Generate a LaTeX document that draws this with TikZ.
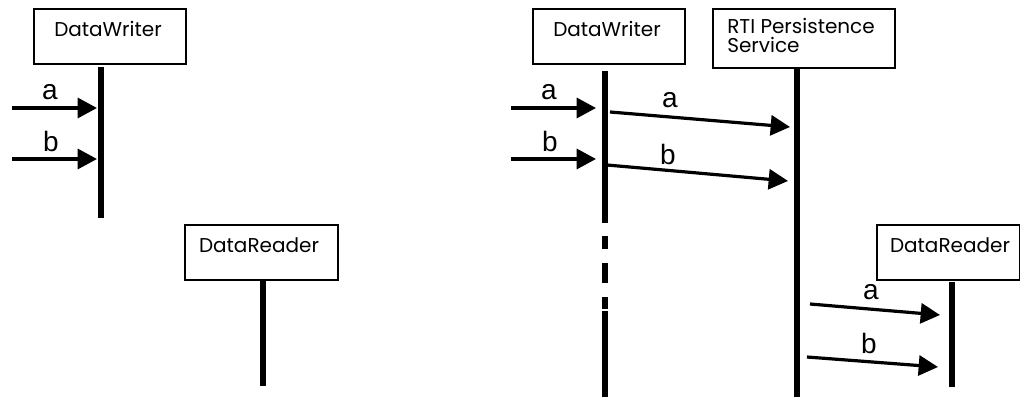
\documentclass[tikz,border=0pt]{standalone}
\usepackage{fontspec}
\setmainfont{Liberation Sans}
\newfontfamily\boxfont{Poppins}
\usetikzlibrary{arrows.meta}
\begin{document}
\begin{tikzpicture}[x=0.75pt,y=-0.75pt,
  objbox/.style={draw,line width=1.5pt,inner sep=0pt,anchor=north west},
  boxtext/.style={font=\boxfont\fontsize{15}{15}\selectfont,inner sep=0pt},
  lbl/.style={font=\fontsize{21}{24}\selectfont,inner sep=0pt},
  life/.style={line width=3.8pt},
  msg/.style={line width=2.4pt,-{Triangle[length=14.5pt,width=15pt]}}]
\useasboundingbox (0,0) rectangle (1020,398);
% ---- left panel ----
\node[objbox,minimum width=152*0.75pt,minimum height=55*0.75pt] (dwA) at (33,8) {};
\node[boxtext] (dwAt) at (108,29) {DataWriter};
\coordinate (dwAtop) at (101,67);
\coordinate (dwAbot) at (101,218);
\draw[life] (dwAtop) -- (dwAbot);
\coordinate (inAa) at (12,108); \coordinate (endAa) at (97,108);
\coordinate (inAb) at (12,159); \coordinate (endAb) at (97,159);
\draw[msg] (inAa) -- (endAa);
\draw[msg] (inAb) -- (endAb);
\node[lbl] (lAa) at (50,92) {a};
\node[lbl] (lAb) at (51,141) {b};
\node[objbox,minimum width=153*0.75pt,minimum height=55*0.75pt] (drA) at (184,224) {};
\node[boxtext] (drAt) at (259,245) {DataReader};
\coordinate (drAtop) at (263,281);
\coordinate (drAbot) at (263,386);
\draw[life] (drAtop) -- (drAbot);
% ---- right panel ----
\node[objbox,minimum width=152*0.75pt,minimum height=55*0.75pt] (dwB) at (532,8) {};
\node[boxtext] (dwBt) at (607,29) {DataWriter};
\node[objbox,minimum width=182*0.75pt,minimum height=59*0.75pt] (rti) at (712,8) {};
\node[boxtext,align=left,anchor=north west,font=\boxfont\fontsize{15}{14.5}\selectfont] (rtit) at (727,18) {RTI Persistence\\Service};
\coordinate (dwB1) at (605,71); \coordinate (dwB2) at (605,223);
\coordinate (dwB3) at (605,236); \coordinate (dwB4) at (605,249);
\coordinate (dwB5) at (605,263); \coordinate (dwB6) at (605,283);
\coordinate (dwB7) at (605,297); \coordinate (dwB8) at (605,309);
\coordinate (dwB9) at (605,311); \coordinate (dwB10) at (605,397);
\draw[life] (dwB1) -- (dwB2);
\draw[life] (dwB3) -- (dwB4);
\draw[life] (dwB5) -- (dwB6);
\draw[life] (dwB7) -- (dwB8);
\draw[life] (dwB9) -- (dwB10);
\coordinate (rtitop) at (797,69); \coordinate (rtibot) at (797,397);
\draw[life] (rtitop) -- (rtibot);
\coordinate (inBa) at (511,108); \coordinate (endBa) at (596,108);
\coordinate (inBb) at (511,159); \coordinate (endBb) at (596,159);
\draw[msg] (inBa) -- (endBa);
\draw[msg] (inBb) -- (endBb);
\node[lbl] (lBa) at (549,92) {a};
\node[lbl] (lBb) at (550,141) {b};
\coordinate (mBa1) at (610,112); \coordinate (mBa2) at (790,127);
\coordinate (mBb1) at (607,165); \coordinate (mBb2) at (788,181);
\draw[msg] (mBa1) -- (mBa2);
\draw[msg] (mBb1) -- (mBb2);
\node[lbl] (lMa) at (670,100) {a};
\node[lbl] (lMb) at (668,154) {b};
\node[objbox,minimum width=143*0.75pt,minimum height=55*0.75pt] (drB) at (876,224) {};
\node[boxtext] (drBt) at (950,245) {DataReader};
\coordinate (drBtop) at (952,282); \coordinate (drBbot) at (952,387);
\draw[life] (drBtop) -- (drBbot);
\coordinate (rBa1) at (810,304); \coordinate (rBa2) at (940,315);
\coordinate (rBb1) at (807,357); \coordinate (rBb2) at (938,367);
\draw[msg] (rBa1) -- (rBa2);
\draw[msg] (rBb1) -- (rBb2);
\node[lbl] (lRa) at (871,292) {a};
\node[lbl] (lRb) at (869,343) {b};
\end{tikzpicture}
\end{document}
